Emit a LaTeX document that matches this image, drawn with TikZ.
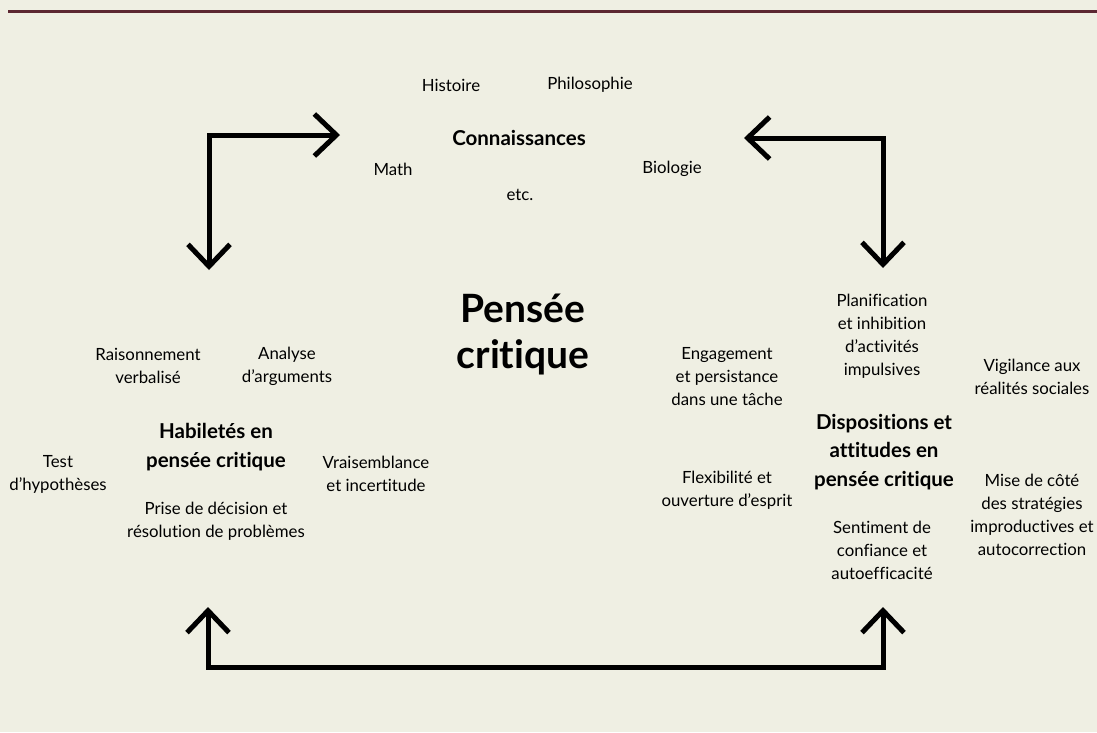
\documentclass[tikz,border=0pt]{standalone}
\usepackage{fontspec}
\setmainfont{Lato}[Ligatures=NoCommon]
\usetikzlibrary{arrows.meta}
\definecolor{bgc}{HTML}{EFEFE3}
\definecolor{rulec}{HTML}{5C2832}
\tikzset{
  txt/.style={align=center, inner sep=0pt, font=\fontsize{16.8}{23}\selectfont},
  hd/.style={align=center, inner sep=0pt, font=\fontsize{20.5}{28.5}\selectfont\bfseries},
  big/.style={align=center, inner sep=0pt, font=\fontsize{39}{46}\selectfont\bfseries},
  conn/.style={line width=5pt, line join=miter, {Straight Barb[length=22pt,width=42pt,line width=5pt]}-{Straight Barb[length=22pt,width=42pt,line width=5pt]}}
}
\begin{document}
\begin{tikzpicture}[x=1pt,y=-1pt]
\fill[bgc] (0,0) rectangle (1097,732);
\useasboundingbox (0,0) rectangle (1097,732);
\coordinate (r1) at (8,11);
\coordinate (r2) at (1097,11);
\draw[rulec, line width=3pt] (r1) -- (r2);

% Connaissances
\node[txt] (hist) at (451,85) {Histoire};
\node[txt] (philo) at (590,85) {Philosophie};
\node[hd] (conn) at (519,138) {Connaissances};
\node[txt] (math) at (393,169) {Math};
\node[txt] (bio) at (672,169) {Biologie};
\node[txt] (etc) at (520,195) {etc.};

% Pensee critique
\node[big] (pc) at (523,335) {Pensée\\critique};

% Habiletes
\node[txt] (rais) at (148,366) {Raisonnement\\verbalisé};
\node[txt] (anal) at (287,366) {Analyse\\d’arguments};
\node[hd] (hab) at (216,447) {Habiletés en\\pensée critique};
\node[txt] (test) at (58,474) {Test\\d’hypothèses};
\node[txt] (vrai) at (376,474) {Vraisemblance\\et incertitude};
\node[txt] (prise) at (216,521) {Prise de décision et\\résolution de problèmes};

% Dispositions
\node[txt] (eng) at (727,377) {Engagement\\et persistance\\dans une tâche};
\node[txt] (flex) at (727,490) {Flexibilité et\\ouverture d’esprit};
\node[txt] (plan) at (882,336) {Planification\\et inhibition\\d’activités\\impulsives};
\node[txt] (vig) at (1032,377) {Vigilance aux\\réalités sociales};
\node[hd] (disp) at (884,452) {Dispositions et\\attitudes en\\pensée critique};
\node[txt] (mise) at (1032,515) {Mise de côté\\des stratégies\\improductives et\\autocorrection};
\node[txt] (sent) at (882,550) {Sentiment de\\confiance et\\autoefficacité};

% connectors
\coordinate (tl1) at (209,270);
\coordinate (tl2) at (340,135);
\coordinate (tr1) at (744,138);
\coordinate (tr2) at (883,268);
\coordinate (bl) at (208,607);
\coordinate (br) at (883,607);
\draw[conn] (tl1) |- (tl2);
\draw[conn] (tr1) -| (tr2);
\draw[conn] (bl) -- ++(0,60) -| (br);
\end{tikzpicture}
\end{document}
